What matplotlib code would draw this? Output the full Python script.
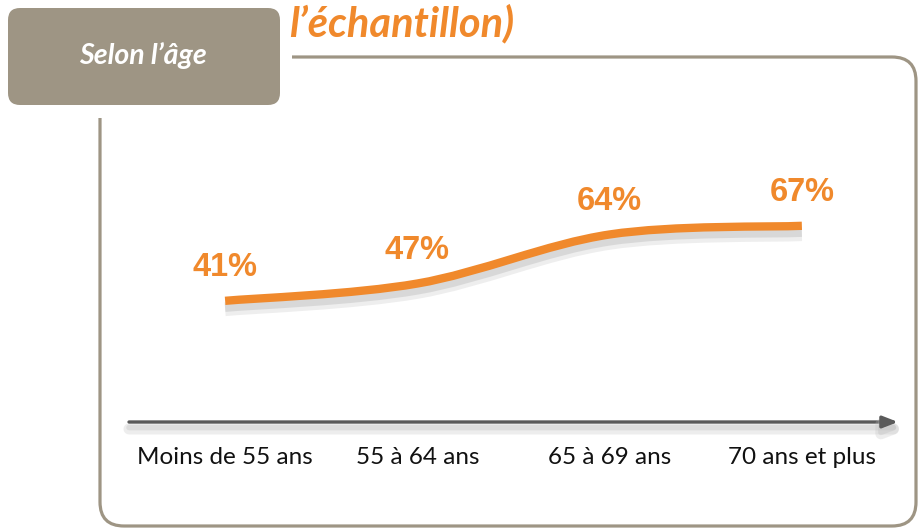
import matplotlib.pyplot as plt
import matplotlib.patheffects as pe
from matplotlib.patches import FancyBboxPatch, PathPatch
from matplotlib.path import Path

categories = ['Moins de 55 ans', '55 à 64 ans', '65 à 69 ans', '70 ans et plus']
values = [41, 47, 64, 67]
labels = ['41%', '47%', '64%', '67%']

orange = '#F0892C'
taupe = '#9E9584'

fig = plt.figure(figsize=(9.19, 5.29), dpi=100)

# decoration layer in pixel coordinates
deco = fig.add_axes([0, 0, 1, 1], zorder=0)
deco.set_xlim(0, 919)
deco.set_ylim(529, 0)
deco.axis('off')

frame = FancyBboxPatch((100, 57), 816, 469, boxstyle='round,pad=0,rounding_size=24',
                       fill=False, edgecolor=taupe, linewidth=2.3)
deco.add_patch(frame)
deco.add_patch(FancyBboxPatch((-20, -20), 312, 138, boxstyle='round,pad=0,rounding_size=10',
                              facecolor='white', edgecolor='none'))
deco.add_patch(FancyBboxPatch((8, 8), 272, 97, boxstyle='round,pad=0,rounding_size=12',
                              facecolor=taupe, edgecolor='none'))
deco.text(143, 56, 'Selon l’âge', color='white', fontsize=20.5, fontweight='bold',
          fontstyle='italic', family=['Lato', 'DejaVu Sans'], ha='center', va='center')
deco.text(289, 24, 'l’échantillon)', color=orange, fontsize=30, fontweight='bold',
          fontstyle='italic', family=['Lato', 'DejaVu Sans'], ha='left', va='center')

# data axes
ax = fig.add_axes([129 / 919, (529 - 422) / 529, 769 / 919, 291.4 / 529], zorder=1)
ax.patch.set_visible(False)
ax.set_xlim(-0.5, len(categories) - 0.5)
ax.set_ylim(-1, 100)
for s in ax.spines.values():
    s.set_visible(False)
ax.set_yticks([])
ax.set_xticks(range(len(categories)))
ax.set_xticklabels(categories, fontsize=17.5, family=['Lato', 'DejaVu Sans'], color='#111111')
ax.tick_params(axis='x', length=0, pad=18)

# axis arrow
ax.annotate('', xy=(1.0, 0), xytext=(0.0, 0), xycoords='axes fraction',
            arrowprops=dict(arrowstyle='-|>,head_length=0.9,head_width=0.35', color='#5A5A5A',
                            lw=2.4, shrinkA=0, shrinkB=0,
                            path_effects=[pe.SimpleLineShadow(offset=(0, -5), shadow_color='#BBBBBB',
                                                              alpha=0.25, linewidth=8),
                                          pe.SimpleLineShadow(offset=(0, -4), shadow_color='#BBBBBB',
                                                              alpha=0.3, linewidth=4),
                                          pe.Normal()]))

# smoothed line (Bezier through the data points)
xs = list(range(len(values)))
pts = list(zip(xs, values))
verts = [pts[0]]
codes = [Path.MOVETO]
n = len(pts)
for i in range(n - 1):
    p0 = pts[max(i - 1, 0)]
    p1 = pts[i]
    p2 = pts[i + 1]
    p3 = pts[min(i + 2, n - 1)]
    c1 = (p1[0] + (p2[0] - p0[0]) / 6, p1[1] + (p2[1] - p0[1]) / 6)
    c2 = (p2[0] - (p3[0] - p1[0]) / 6, p2[1] - (p3[1] - p1[1]) / 6)
    verts += [c1, c2, p2]
    codes += [Path.CURVE4] * 3

curve = PathPatch(Path(verts, codes), fill=False, edgecolor=orange, linewidth=6,
                  capstyle='butt',
                  path_effects=[pe.SimpleLineShadow(offset=(0, -6), shadow_color='#AAAAAA',
                                                    alpha=0.2, linewidth=10),
                                pe.SimpleLineShadow(offset=(0, -5), shadow_color='#999999',
                                                    alpha=0.25, linewidth=6),
                                pe.Normal()])
ax.add_patch(curve)

for x, v, lab in zip(xs, values, labels):
    ax.annotate(lab, (x, v), xytext=(0, 24), textcoords='offset points', ha='center',
                va='center', color=orange, fontsize=23.5, fontweight='bold',
                family=['Liberation Sans', 'DejaVu Sans'])

fig.savefig('out.png', dpi=100)
